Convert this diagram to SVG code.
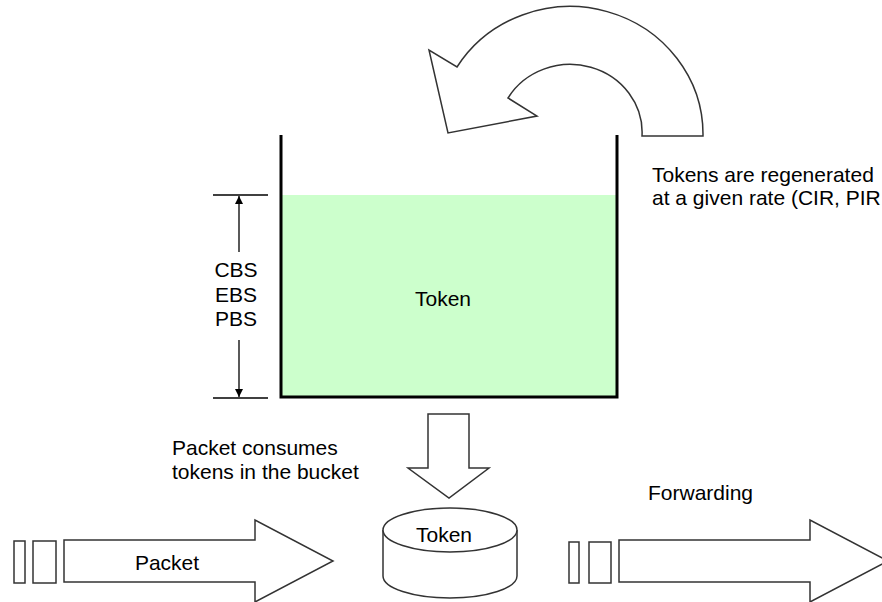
<svg xmlns="http://www.w3.org/2000/svg" width="882" height="602" viewBox="0 0 882 602">
  <style>
    .lbl { font-family: "Liberation Sans", Arial, sans-serif; font-size: 21px; fill: #000; }
    .mid { text-anchor: middle; }
    .outline { fill: #fff; stroke: #333; stroke-width: 1.5; stroke-linejoin: miter; }
    .wall { fill: none; stroke: #000; stroke-width: 3; }
    .dim { fill: none; stroke: #000; stroke-width: 1.3; }
  </style>
  <defs>
    <marker id="dimHead" viewBox="0 0 10 10" refX="10" refY="5" markerWidth="8" markerHeight="8" markerUnits="userSpaceOnUse" orient="auto">
      <path d="M0,0 L10,5 L0,10 Z" fill="#000"/>
    </marker>
  </defs>
  <rect width="882" height="602" fill="#fff"/>

  <!-- token bucket -->
  <g id="bucket">
    <rect x="281" y="195" width="336" height="202" fill="#ccffcc"/>
    <path class="wall" d="M281,135 V397 H617 V135"/>
    <text class="lbl mid" x="443" y="306">Token</text>
  </g>

  <!-- refill arrow -->
  <g id="refill">
    <path class="outline" d="M703,136 A133,128 0 0 0 457,67 L429,50 L448,133 L537,116 L508,98 A72,68 0 0 1 642,136 Z"/>
    <text class="lbl" x="652" y="182">Tokens are regenerated</text>
    <text class="lbl" x="652" y="205">at a given rate (CIR, PIR</text>
  </g>

  <!-- bucket depth -->
  <g id="depth">
    <line class="dim" x1="213" y1="195" x2="268" y2="195"/>
    <line class="dim" x1="213" y1="398" x2="268" y2="398"/>
    <text class="lbl mid" x="236" y="277">CBS</text>
    <text class="lbl mid" x="236" y="302">EBS</text>
    <text class="lbl mid" x="236" y="326">PBS</text>
  </g>

  <!-- token store -->
  <g id="store">
    <path class="outline" d="M383,530 V576 A67,22 0 0 0 517,576 V530"/>
    <ellipse class="outline" cx="450" cy="530" rx="67" ry="22"/>
    <text class="lbl mid" x="444" y="542">Token</text>
  </g>

  <g id="consume-label">
    <text class="lbl" x="172" y="455">Packet consumes</text>
    <text class="lbl" x="172" y="479">tokens in the bucket</text>
  </g>

  <!-- incoming packet -->
  <g id="packet-in">
    <rect class="outline" x="14" y="541" width="11" height="42"/>
    <rect class="outline" x="33" y="541" width="23" height="42"/>
    <path class="outline" d="M64,540 H255 V520 L333,561 L255,602 V582 H64 Z"/>
    <text class="lbl mid" x="167" y="570">Packet</text>
  </g>

  <!-- forwarded packet -->
  <g id="packet-out">
    <rect class="outline" x="569" y="542" width="10" height="41"/>
    <rect class="outline" x="589" y="542" width="22" height="41"/>
    <path class="outline" d="M619,540 H810 V520 L888,561 L810,602 V582 H619 Z"/>
    <text class="lbl" x="648" y="500">Forwarding</text>
  </g>

  <g id="connectors">
    <line class="dim" x1="239" y1="252" x2="239" y2="196" marker-end="url(#dimHead)"/>
    <line class="dim" x1="239" y1="340" x2="239" y2="397" marker-end="url(#dimHead)"/>
    <path class="outline" d="M428,414 H469 V468 H489 L449,498 L408,468 H428 Z"/>
  </g>
</svg>
